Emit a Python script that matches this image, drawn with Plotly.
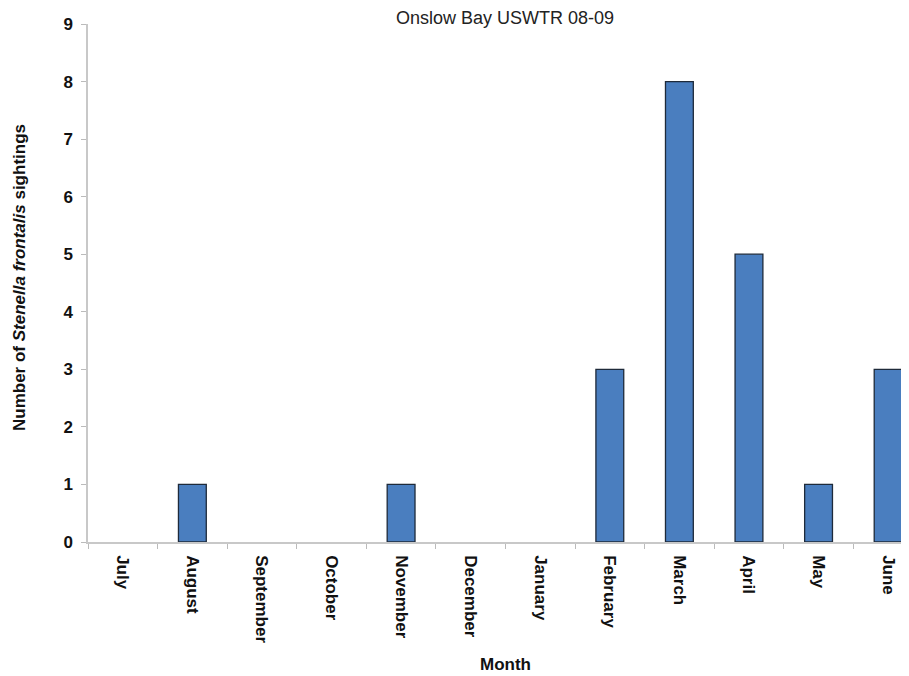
import plotly.graph_objects as go

months = ["July", "August", "September", "October", "November", "December",
          "January", "February", "March", "April", "May", "June"]
sightings = [0, 1, 0, 0, 1, 0, 0, 3, 8, 5, 1, 3]

FONT = "Liberation Sans, Arial, sans-serif"
W, H = 901, 668            # page body has an 8px margin
L, R, T, B = 80, 0, 16, 134
plot_h = H - T - B
plot_w = W - L - R

fig = go.Figure()
fig.add_trace(go.Bar(
    x=months, y=sightings,
    marker=dict(color="#4a7ebf",
                line=dict(color="#1e2a3a", width=[1.3 if v > 0 else 0 for v in sightings])),
))

fig.update_layout(
    width=W, height=H,
    paper_bgcolor="white", plot_bgcolor="white",
    margin=dict(l=L, r=R, t=T, b=B, autoexpand=False),
    bargap=0.6,
    showlegend=False,
    font=dict(family=FONT, color="#111", size=17),
    title=dict(text="Onslow Bay USWTR 08-09", x=497 / W, xanchor="center",
               y=1 - 10 / H, yanchor="middle",
               font=dict(size=18, color="#222")),
)
fig.update_xaxes(
    range=[-0.5, 11.3],
    tickangle=90,
    tickson="boundaries",
    ticks="outside", ticklen=5, tickcolor="#bbb",
    ticklabelstandoff=8,
    showline=True, linecolor="#c8c8c8", linewidth=1.5,
    showgrid=False,
    tickfont=dict(size=17, family=FONT, weight="bold"),
)
fig.update_yaxes(
    range=[0, 9], dtick=1,
    ticks="outside", ticklen=5, tickcolor="#bbb",
    ticklabelstandoff=5,
    showline=True, linecolor="#c8c8c8", linewidth=1.5,
    showgrid=False, zeroline=False,
    tickfont=dict(size=17, weight="bold"),
)
fig.add_annotation(
    text="<b>Month</b>", xref="paper", yref="paper",
    x=(497 - L) / plot_w, y=(plot_h + T - 656) / plot_h,
    xanchor="center", yanchor="middle", showarrow=False,
    font=dict(size=17, family=FONT, color="#111"),
)
fig.add_annotation(
    text="<b>Number of <i>Stenella frontalis</i> sightings</b>",
    xref="paper", yref="paper", textangle=-90,
    x=(11 - L) / plot_w, y=(T + plot_h - 270) / plot_h,
    xanchor="center", yanchor="middle", showarrow=False,
    font=dict(size=17, family=FONT, color="#111"),
)

fig.write_html("out.html")
